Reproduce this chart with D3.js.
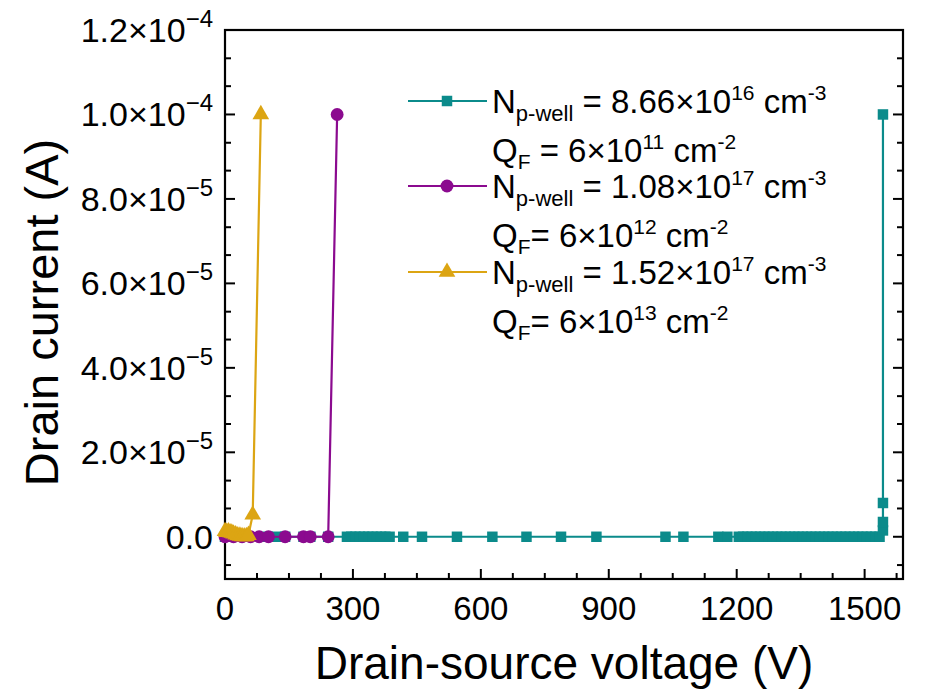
<!DOCTYPE html>
<html><head><meta charset="utf-8">
<script src="https://cdn.jsdelivr.net/npm/d3@7/dist/d3.min.js"></script>
<style>body{margin:0;background:#fff}svg{display:block}text{font-family:"Liberation Sans",Arial,sans-serif;fill:#000}</style>
</head><body><svg id="c" width="925" height="693"></svg>
<script>
// ---- data ----
const xTicks = [0, 300, 600, 900, 1200, 1500];
const yTicks = [0, 2e-5, 4e-5, 6e-5, 8e-5, 1e-4, 1.2e-4];
const yTickMant = ["0.0", "2.0", "4.0", "6.0", "8.0", "1.0", "1.2"];
const yTickExp = ["", "−5", "−5", "−5", "−5", "−4", "−4"];

const tealV = [0, 50, 100, 122, 141, 184, 200, 242, 286, 296, 306, 316, 326, 336, 346, 356, 366, 376, 386,
  418, 462, 544, 627, 707, 788, 871, 1033, 1075, 1157, 1178,
  1205, 1215, 1225, 1235, 1245, 1255, 1265, 1275, 1285, 1295, 1305, 1315, 1325, 1335, 1345, 1355, 1365,
  1375, 1385, 1395, 1405, 1415, 1425, 1435, 1445, 1455, 1465, 1475, 1485, 1495, 1505, 1515, 1525, 1535,
  1543, 1543, 1543, 1543];
const tealI = [0, 0, 0, 0, 0, 0, 0, 0, 0, 0, 0, 0, 0, 0, 0, 0, 0, 0, 0,
  0, 0, 0, 0, 0, 0, 0, 0, 0, 0, 0,
  0, 0, 0, 0, 0, 0, 0, 0, 0, 0, 0, 0, 0, 0, 0, 0, 0,
  0, 0, 0, 0, 0, 0, 0, 0, 0, 0, 0, 0, 0, 0, 0, 0, 0,
  1.5e-6, 3.5e-6, 8e-6, 1e-4];

const purpleV = [0, 20, 40, 60, 80, 102, 141, 184, 200, 242, 263];
const purpleI = [0, 0, 0, 0, 0, 0, 0, 0, 0, 0, 1e-4];

const yellowV = [0, 4, 8, 12, 16, 20, 25, 30, 35, 40, 45, 50, 55, 65, 84];
const yellowI = [1.3e-6, 1.1e-6, 1.2e-6, 1.0e-6, 0.9e-6, 0.7e-6, 0.5e-6, 0.3e-6, 0.2e-6, 0.1e-6, 0.05e-6, 0.1e-6, 0.4e-6, 5.2e-6, 1e-4];

const seriesNames = ["8.66×10", "1.08×10", "1.52×10"];
const seriesNExp = ["16", "17", "17"];
const seriesQ = ["6×10", "6×10", "6×10"];
const seriesQExp = ["11", "12", "13"];
const seriesQEq = [" = ", "= ", "= "];
const colors = ["#0b8b8b", "#8b0a8f", "#dca513"];

// ---- layout ----
const svg = d3.select("#c");
const L = 225, R = 903, T = 30, B = 579;
const x = d3.scaleLinear().domain([0, 1590]).range([L, R]);
const y = d3.scaleLinear().domain([-1e-5, 1.2e-4]).range([B, T]);

// frame
svg.append("rect").attr("x", L).attr("y", T).attr("width", R - L).attr("height", B - T)
  .attr("fill", "none").attr("stroke", "#000").attr("stroke-width", 2.2);

const xMinor = d3.range(0, 1590, 75);
const yMinor = d3.range(-6.6667e-6, 1.2e-4, 2e-5 / 3);

function ticks(sel) {
  xMinor.forEach(v => {
    const major = xTicks.includes(v);
    const len = major ? 10 : 6;
    sel.append("line").attr("x1", x(v)).attr("x2", x(v)).attr("y1", B).attr("y2", B - len);
  });
  yMinor.forEach(v0 => {
    const v = Math.round(v0 * 1e7) / 1e7;
    const major = yTicks.some(t => Math.abs(t - v) < 1e-8);
    const len = major ? 10 : 6;
    sel.append("line").attr("x1", L).attr("x2", L + len).attr("y1", y(v)).attr("y2", y(v));
    sel.append("line").attr("x1", R).attr("x2", R - len).attr("y1", y(v)).attr("y2", y(v));
  });
}
const tg = svg.append("g").attr("stroke", "#000").attr("stroke-width", 2);
ticks(tg);

// x tick labels
xTicks.forEach(v => {
  svg.append("text").attr("x", x(v)).attr("y", 620).attr("text-anchor", "middle")
    .attr("font-size", 33).text(v);
});
// y tick labels
yTicks.forEach((v, i) => {
  const t = svg.append("text").attr("x", 213).attr("y", y(v) + 12).attr("text-anchor", "end")
    .attr("font-size", 34);
  if (yTickExp[i]) {
    t.append("tspan").text(yTickMant[i] + "×10");
    t.append("tspan").attr("dy", -15).attr("font-size", 24).text(yTickExp[i]);
  } else {
    t.text(yTickMant[i]);
  }
});

// axis titles
svg.append("text").attr("x", (L + R) / 2).attr("y", 679).attr("text-anchor", "middle")
  .attr("font-size", 46).text("Drain-source voltage (V)");
svg.append("text").attr("transform", `translate(58,${(T + B) / 2 + 8}) rotate(-90)`)
  .attr("text-anchor", "middle").attr("font-size", 47).text("Drain current (A)");

// series
const line = d3.line().x(d => x(d[0])).y(d => y(d[1]));
const sets = [
  d3.zip(tealV, tealI),
  d3.zip(purpleV, purpleI),
  d3.zip(yellowV, yellowI)
];
const sym = [d3.symbolSquare, d3.symbolCircle, d3.symbolTriangle];
const symSize = [110, 130, 120];

const plot = svg.append("g");
sets.forEach((data, k) => {
  plot.append("path").datum(data).attr("d", line).attr("fill", "none")
    .attr("stroke", colors[k]).attr("stroke-width", 2.2);
  plot.selectAll(null).data(data).enter().append("path")
    .attr("d", d3.symbol().type(sym[k]).size(symSize[k]))
    .attr("transform", d => `translate(${x(d[0])},${y(d[1])})`)
    .attr("fill", colors[k]);
});

// legend
const legY = [101, 186, 272];
legY.forEach((ly, k) => {
  const g = svg.append("g");
  g.append("line").attr("x1", 408).attr("x2", 487).attr("y1", ly).attr("y2", ly)
    .attr("stroke", colors[k]).attr("stroke-width", 2.2);
  g.append("path").attr("d", d3.symbol().type(sym[k]).size(symSize[k]))
    .attr("transform", `translate(447,${ly})`).attr("fill", colors[k]);
  const t1 = g.append("text").attr("x", 492).attr("y", ly + 12).attr("font-size", 33);
  t1.append("tspan").text("N");
  t1.append("tspan").attr("dy", 8).attr("font-size", 22).text("p-well");
  t1.append("tspan").attr("dy", -8).text(" = " + seriesNames[k]);
  t1.append("tspan").attr("dy", -13).attr("font-size", 21).text(seriesNExp[k]);
  t1.append("tspan").attr("dy", 13).text(" cm");
  t1.append("tspan").attr("dy", -13).attr("font-size", 21).text("-3");
  const t2 = g.append("text").attr("x", 492).attr("y", ly + 61).attr("font-size", 33);
  t2.append("tspan").text("Q");
  t2.append("tspan").attr("dy", 7).attr("font-size", 21).text("F");
  t2.append("tspan").attr("dy", -7).text(seriesQEq[k] + seriesQ[k]);
  t2.append("tspan").attr("dy", -13).attr("font-size", 21).text(seriesQExp[k]);
  t2.append("tspan").attr("dy", 13).text(" cm");
  t2.append("tspan").attr("dy", -13).attr("font-size", 21).text("-2");
});
</script></body></html>
